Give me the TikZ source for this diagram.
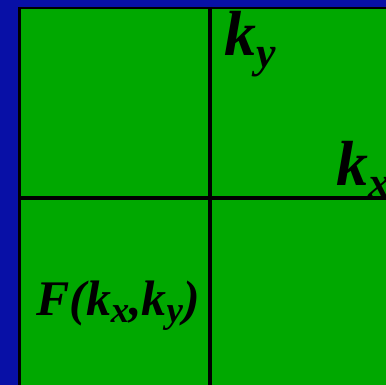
\documentclass[tikz,border=0pt]{standalone}
\usepackage{fontspec}
\setmainfont{Liberation Serif}
\usepackage{tikz}
\usetikzlibrary{positioning}
\definecolor{backblue}{RGB}{8,16,166}
\definecolor{planegreen}{RGB}{0,168,0}
\newcommand{\bigsub}[1]{\raisebox{-12bp}{\fontsize{44}{44}\selectfont #1}}
\newcommand{\smallsub}[1]{\raisebox{-7bp}{\fontsize{37}{37}\selectfont #1}}
\tikzset{
  axislabel/.style={inner sep=0pt,anchor=base west,font=\fontsize{64}{64}\selectfont\bfseries\itshape},
  funclabel/.style={inner sep=0pt,anchor=base west,font=\fontsize{50}{50}\selectfont\bfseries\itshape},
  axisline/.style={line width=4bp,black}
}
\begin{document}
\begin{tikzpicture}[x=1bp,y=1bp]
  \useasboundingbox (0,0) rectangle (386,385);
  \clip (0,0) rectangle (386,385);
  \fill[backblue] (0,0) rectangle (386,385);
  % frequency plane
  \fill[black] (18,0) rectangle (386,378);
  \fill[planegreen] (20.7,0) rectangle (386,375.7);
  \coordinate (top) at (210,378);
  \coordinate (bottom) at (210,0);
  \coordinate (left) at (20.7,186.5);
  \coordinate (right) at (386,186.5);
  \draw[axisline] (top) -- (bottom);
  \draw[axisline] (left) -- (right);
  \node[axislabel] (ky) at (224,330) {k\bigsub{y}};
  \node[axislabel] (kx) at (336,200) {k\bigsub{x}};
  \node[funclabel] (F) at (36,70) {F(k\smallsub{x},k\smallsub{y})};
\end{tikzpicture}
\end{document}
